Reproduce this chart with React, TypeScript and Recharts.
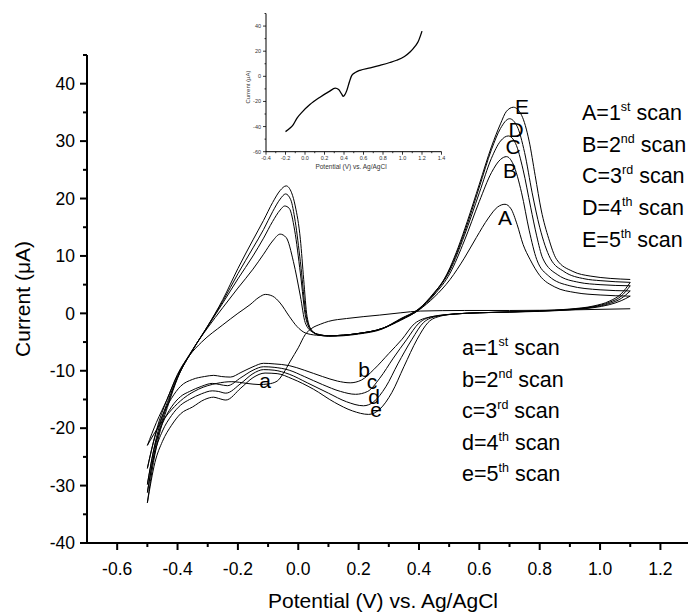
import React from 'react';
import { LineChart, Line, XAxis, YAxis } from 'recharts';

type Pt = [number, number];

// anodic sweeps, -0.5 V -> 1.1 V (scans 1..5)
const fwdScan1: Pt[] = [
  [-0.5, -23], [-0.47, -19], [-0.435, -15], [-0.4, -10.6], [-0.36, -7.3], [-0.32, -5], [-0.25, -2],
  [-0.2, 0], [-0.16, 1.5], [-0.13, 2.8], [-0.109, 3.3], [-0.085, 3], [-0.06, 1.8], [-0.03, -0.5],
  [-0.004, -2.3], [0.023, -3.4], [0.06, -3.8], [0.1, -3.9], [0.2, -3.5], [0.28, -2.6], [0.34, -1.2],
  [0.4, 0.6], [0.45, 2.8], [0.503, 5.9], [0.55, 9.6], [0.59, 13.2], [0.63, 16.6], [0.66, 18.5],
  [0.685, 19], [0.705, 18.2], [0.725, 15.5], [0.745, 12], [0.768, 9.4], [0.8, 6.6], [0.85, 4.6],
  [0.92, 3.6], [1.0, 3.2], [1.1, 3.0],
];
const fwdScan2: Pt[] = [
  [-0.5, -27], [-0.48, -22.4], [-0.46, -18.6], [-0.43, -14.4], [-0.4, -10.8], [-0.35, -6.3], [-0.3, -2.5],
  [-0.25, 1], [-0.2, 4.4], [-0.15, 7.7], [-0.115, 10.3], [-0.085, 12.6], [-0.06, 13.8],
  [-0.04, 13.2], [-0.016, 9], [0.007, 3], [0.023, -1.6], [0.045, -3.2], [0.07, -3.7], [0.1, -3.9],
  [0.2, -3.5], [0.28, -2.6], [0.34, -1.1], [0.4, 0.6], [0.45, 3.2], [0.503, 7], [0.55, 12.6], [0.6, 19.5],
  [0.64, 24.5], [0.67, 26.8], [0.69, 27.3], [0.712, 26], [0.74, 21], [0.765, 14.5], [0.79, 9.4],
  [0.83, 6.5], [0.9, 4.8], [1.0, 4.1], [1.1, 3.9],
];
const fwdScan3: Pt[] = [
  [-0.5, -29.8], [-0.48, -24], [-0.46, -19.6], [-0.43, -15], [-0.4, -11.1], [-0.35, -6.4], [-0.3, -2.3],
  [-0.25, 1.8], [-0.2, 6], [-0.15, 10], [-0.115, 13.1], [-0.085, 16], [-0.06, 18],
  [-0.045, 18.7], [-0.03, 18.3], [-0.012, 14.5], [0.007, 7], [0.025, -0.8], [0.045, -3.1], [0.07, -3.7],
  [0.1, -3.9], [0.2, -3.5], [0.28, -2.6], [0.34, -1.0], [0.4, 0.7], [0.45, 3.4], [0.503, 7.5], [0.55, 13.5],
  [0.6, 21], [0.64, 27], [0.67, 30], [0.696, 30.9], [0.72, 29.6], [0.745, 25], [0.77, 18.5], [0.79, 13.5],
  [0.81, 9.6], [0.86, 6.7], [0.93, 5.4], [1.0, 5.0], [1.1, 4.8],
];
const fwdScan4: Pt[] = [
  [-0.5, -31.2], [-0.48, -25], [-0.46, -20.3], [-0.43, -15.4], [-0.4, -11.2], [-0.35, -6.4], [-0.3, -2.2],
  [-0.25, 2.1], [-0.2, 6.9], [-0.15, 11.4], [-0.115, 14.6], [-0.085, 17.7], [-0.06, 19.9],
  [-0.042, 20.8], [-0.025, 19.8], [-0.01, 16], [0.007, 9], [0.027, -0.6], [0.045, -3], [0.07, -3.8],
  [0.1, -3.9], [0.2, -3.5], [0.28, -2.6], [0.34, -0.9], [0.4, 0.8], [0.45, 3.5], [0.503, 7.8], [0.55, 14],
  [0.6, 22], [0.64, 28.5], [0.67, 32.2], [0.7, 33.9], [0.725, 32.6], [0.75, 28], [0.775, 21], [0.8, 15],
  [0.835, 9.6], [0.88, 7.3], [0.95, 6.0], [1.0, 5.7], [1.1, 5.4],
];
const fwdScan5: Pt[] = [
  [-0.5, -33], [-0.48, -26], [-0.46, -21], [-0.43, -15.8], [-0.4, -11.3], [-0.35, -6.4], [-0.3, -2.2],
  [-0.25, 2.4], [-0.2, 7.8], [-0.15, 12.8], [-0.115, 16.2], [-0.085, 19.3], [-0.06, 21.4],
  [-0.04, 22.2], [-0.022, 21], [-0.01, 18.7], [0.007, 12.9], [0.018, 5.9], [0.029, -0.5], [0.045, -3],
  [0.07, -3.8], [0.1, -4], [0.2, -3.6], [0.28, -2.7], [0.34, -1], [0.4, 0.8], [0.45, 3.6], [0.48, 5.6],
  [0.503, 8], [0.53, 11.5], [0.56, 16], [0.6, 22.5], [0.64, 29], [0.67, 33], [0.69, 35.2], [0.713, 35.9],
  [0.74, 34.5], [0.765, 30], [0.785, 24], [0.805, 18], [0.83, 13], [0.856, 9.4], [0.91, 7.3], [0.967, 6.5],
  [1.1, 5.9],
];

// cathodic sweeps, 1.1 V -> -0.5 V (scans a..e)
const revScan1: Pt[] = [
  [1.1, 0.8], [0.9, 0.6], [0.7, 0.5], [0.55, 0.5], [0.404, 0.4], [0.34, 0.1], [0.27, -0.3], [0.16, -0.9],
  [0.1, -1.4], [0.073, -1.9], [0.045, -2.6], [0.023, -3.7], [0.0, -6], [-0.026, -8.3], [-0.05, -10.5],
  [-0.07, -11.8], [-0.1, -12.3], [-0.13, -12.4], [-0.17, -12.2], [-0.22, -11.9], [-0.27, -12.2],
  [-0.33, -13.2], [-0.38, -14.8], [-0.42, -16.8], [-0.46, -19.5], [-0.5, -23],
];
const revScan2: Pt[] = [
  [1.1, 3.0], [1.07, 2.2], [1.03, 1.5], [0.98, 1.0], [0.9, 0.6], [0.8, 0.35], [0.7, 0.2], [0.6, 0.1],
  [0.52, -0.1], [0.47, -0.4], [0.44, -0.6], [0.385, -1.8], [0.344, -4.5], [0.3, -7], [0.25, -9.8],
  [0.21, -11.6], [0.172, -12.1], [0.13, -11.8], [0.08, -11], [0.02, -9.9], [-0.03, -9.1], [-0.08, -8.8],
  [-0.115, -8.7], [-0.15, -9.3], [-0.19, -10.3], [-0.225, -11.1], [-0.255, -11], [-0.28, -10.8],
  [-0.31, -11], [-0.35, -11.5], [-0.39, -12.7], [-0.42, -14.8], [-0.45, -17.8], [-0.475, -21.5], [-0.5, -27],
];
const revScan3: Pt[] = [
  [1.1, 3.9], [1.07, 2.6], [1.03, 1.7], [0.98, 1.1], [0.9, 0.65], [0.8, 0.4], [0.7, 0.25], [0.6, 0.1],
  [0.52, -0.1], [0.45, -0.5], [0.4, -1.7], [0.36, -4.5], [0.315, -7.8], [0.27, -11.3], [0.23, -13.6],
  [0.19, -14.1], [0.14, -13.6], [0.08, -12.4], [0.02, -11], [-0.03, -9.9], [-0.08, -9.4], [-0.115, -9.3],
  [-0.15, -9.9], [-0.19, -11.2], [-0.235, -12.6], [-0.26, -12.4], [-0.285, -12.2], [-0.32, -12.7],
  [-0.36, -13.6], [-0.39, -14.5], [-0.42, -16.3], [-0.45, -19.2], [-0.475, -23], [-0.5, -29.8],
];
const revScan4: Pt[] = [
  [1.1, 4.8], [1.07, 3.0], [1.03, 1.9], [0.98, 1.2], [0.9, 0.7], [0.8, 0.4], [0.7, 0.25], [0.6, 0.1],
  [0.52, -0.1], [0.46, -0.5], [0.415, -1.6], [0.377, -4.5], [0.33, -8.8], [0.29, -12.8], [0.25, -15.4],
  [0.216, -16.1], [0.16, -15.4], [0.1, -13.9], [0.03, -12.1], [-0.03, -10.6], [-0.08, -9.9], [-0.115, -9.8],
  [-0.15, -10.5], [-0.19, -12.2], [-0.24, -13.9], [-0.265, -13.6], [-0.285, -13.5], [-0.32, -14],
  [-0.36, -15], [-0.39, -16], [-0.42, -17.8], [-0.45, -20.5], [-0.475, -24.2], [-0.5, -31.2],
];
const revScan5: Pt[] = [
  [1.1, 5.4], [1.07, 3.4], [1.03, 2.1], [0.98, 1.3], [0.9, 0.75], [0.8, 0.45], [0.7, 0.25], [0.6, 0.1],
  [0.52, -0.1], [0.47, -0.5], [0.43, -1.6], [0.394, -4.5], [0.35, -9.3], [0.31, -13.8], [0.27, -16.7],
  [0.233, -17.6], [0.18, -17], [0.12, -15.5], [0.05, -13.2], [-0.02, -11.4], [-0.07, -10.5], [-0.11, -10.4],
  [-0.15, -11.2], [-0.19, -13], [-0.24, -15.1], [-0.265, -14.8], [-0.28, -14.6], [-0.31, -15], [-0.35, -16.3],
  [-0.39, -17.5], [-0.42, -19.5], [-0.45, -22.3], [-0.475, -26], [-0.5, -33],
];

// inset: single sweep
const insetCurve: Pt[] = [
  [-0.2, -44], [-0.15, -41], [-0.12, -38.4], [-0.08, -33], [-0.03, -28.5], [0.05, -22.5], [0.15, -16.8],
  [0.25, -12], [0.31, -9.4], [0.345, -10.5], [0.375, -14], [0.393, -16], [0.41, -14.5], [0.43, -11],
  [0.455, -4.5], [0.48, 0.8], [0.52, 3.2], [0.564, 4.8], [0.67, 6.8], [0.77, 8.8], [0.87, 11], [0.94, 12.8],
  [1.02, 15.8], [1.08, 19.5], [1.13, 24], [1.16, 27.5], [1.2, 36],
];

const xTicks = [-0.6, -0.5, -0.4, -0.3, -0.2, -0.1, 0, 0.1, 0.2, 0.3, 0.4, 0.5, 0.6, 0.7, 0.8, 0.9, 1.0, 1.1, 1.2];
const xLabels = [-0.6, -0.4, -0.2, 0, 0.2, 0.4, 0.6, 0.8, 1.0, 1.2];
const yTicks = [-40, -35, -30, -25, -20, -15, -10, -5, 0, 5, 10, 15, 20, 25, 30, 35, 40, 45];
const yLabels = [-40, -30, -20, -10, 0, 10, 20, 30, 40];
const insetXTicks = [-0.4, -0.3, -0.2, -0.1, 0, 0.1, 0.2, 0.3, 0.4, 0.5, 0.6, 0.7, 0.8, 0.9, 1.0, 1.1, 1.2, 1.3, 1.4];
const insetXLabels = [-0.4, -0.2, 0, 0.2, 0.4, 0.6, 0.8, 1.0, 1.2, 1.4];
const insetYTicks = [-60, -50, -40, -30, -20, -10, 0, 10, 20, 30, 40, 50];
const insetYLabels = [-60, -40, -20, 0, 20, 40];

const peakLetters = ['A', 'B', 'C', 'D', 'E'];
const dipLetters = ['a', 'b', 'c', 'd', 'e'];
const scanNumbers = ['1', '2', '3', '4', '5'];
const scanSuffixes = ['st', 'nd', 'rd', 'th', 'th'];

const toRows = (pts: Pt[]) =>
  pts.slice().sort((p, q) => p[0] - q[0]).map(([v, i]) => ({ v, i }));

const fwdScans = [fwdScan1, fwdScan2, fwdScan3, fwdScan4, fwdScan5];
const revScans = [revScan1, revScan2, revScan3, revScan4, revScan5];

const FONT = '"Liberation Sans", Arial, sans-serif';

const isIn = (list: number[], v: number) => list.some((l) => Math.abs(l - v) < 1e-6);

const makeXTick = (labels: number[], big: number, small: number, gap: number, fs: number, sw: number, color: string) =>
  (props: any) => {
    const { x, y, payload } = props;
    const major = isIn(labels, payload.value);
    return (
      <g>
        <line x1={x} y1={y} x2={x} y2={y + (major ? big : small)} stroke="#000" strokeWidth={sw} />
        {major && (
          <text x={x} y={y + gap} textAnchor="middle" fontSize={fs} fontFamily={FONT} fill={color}>
            {Number(payload.value).toFixed(1)}
          </text>
        )}
      </g>
    );
  };

const makeYTick = (labels: number[], big: number, small: number, gap: number, fs: number, sw: number, color: string) =>
  (props: any) => {
    const { x, y, payload } = props;
    const major = isIn(labels, payload.value);
    return (
      <g>
        <line x1={x} y1={y} x2={x - (major ? big : small)} y2={y} stroke="#000" strokeWidth={sw} />
        {major && (
          <text x={x - gap} y={y} dy="0.36em" textAnchor="end" fontSize={fs} fontFamily={FONT} fill={color}>
            {payload.value}
          </text>
        )}
      </g>
    );
  };

const MainXTick = makeXTick(xLabels, 7, 4, 32, 17.5, 2, '#000');
const MainYTick = makeYTick(yLabels, 7, 4, 12, 17.5, 2, '#000');
const InsetXTick = makeXTick(insetXLabels, 3, 1.5, 8, 5.5, 0.8, '#333');
const InsetYTick = makeYTick(insetYLabels, 3, 1.5, 5, 5.5, 0.8, '#333');

// label anchor points for the peak / dip letters (pixel positions)
const peakLabelPos = [[505, 224.5], [510, 177.5], [513, 153.5], [516, 136.5], [522, 113.5]];
const dipLabelPos = [[265, 387.5], [364, 376.5], [372, 388.5], [374, 403.5], [376, 416.5]];

export default function App() {
  return (
    <div style={{ position: 'absolute', left: 0, top: 0, width: 688, height: 614, overflow: 'hidden', background: '#fff' }}>
      <div style={{ position: 'absolute', left: 0, top: 0 }}>
        <LineChart width={700} height={614} margin={{ top: 55, right: 9.4, bottom: 31, left: 27 }}>
          <XAxis
            type="number"
            dataKey="v"
            domain={[-0.7, 1.3]}
            allowDataOverflow
            ticks={xTicks}
            interval={0}
            tickSize={0}
            tickMargin={0}
            tickLine={false}
            tick={MainXTick}
            axisLine={{ stroke: '#000', strokeWidth: 2 }}
            height={40}
          />
          <YAxis
            type="number"
            domain={[-40, 45]}
            allowDataOverflow
            ticks={yTicks}
            interval={0}
            tickSize={0}
            tickMargin={0}
            tickLine={false}
            tick={MainYTick}
            axisLine={{ stroke: '#000', strokeWidth: 2 }}
            width={60}
          />
          {fwdScans.map((s, k) => (
            <Line key={`f${k}`} data={toRows(s)} dataKey="i" type="monotone" stroke="#000" strokeWidth={1}
              dot={false} activeDot={false} isAnimationActive={false} />
          ))}
          {revScans.map((s, k) => (
            <Line key={`r${k}`} data={toRows(s)} dataKey="i" type="monotone" stroke="#000" strokeWidth={1}
              dot={false} activeDot={false} isAnimationActive={false} />
          ))}
        </LineChart>
      </div>

      <div style={{ position: 'absolute', left: 226, top: 0 }}>
        <LineChart width={230} height={180} margin={{ top: 13.5, right: 14.5, bottom: 8.3, left: 0 }}>
          <XAxis
            type="number"
            dataKey="v"
            domain={[-0.4, 1.4]}
            allowDataOverflow
            ticks={insetXTicks}
            interval={0}
            tickSize={0}
            tickMargin={0}
            tickLine={false}
            tick={InsetXTick}
            axisLine={{ stroke: '#000', strokeWidth: 1 }}
            height={20}
          />
          <YAxis
            type="number"
            domain={[-60, 50]}
            allowDataOverflow
            ticks={insetYTicks}
            interval={0}
            tickSize={0}
            tickMargin={0}
            tickLine={false}
            tick={InsetYTick}
            axisLine={{ stroke: '#000', strokeWidth: 1 }}
            width={40}
          />
          <Line data={toRows(insetCurve)} dataKey="i" type="monotone" stroke="#000" strokeWidth={1.3}
            dot={false} activeDot={false} isAnimationActive={false} />
        </LineChart>
      </div>

      <svg width={688} height={614} style={{ position: 'absolute', left: 0, top: 0, pointerEvents: 'none' }}
        fontFamily={FONT}>
        <text x={22} y={299} transform="rotate(-90 22 299)" textAnchor="middle" dominantBaseline="central" fontSize={21}>
          Current (μA)
        </text>
        <text x={383} y={608} textAnchor="middle" fontSize={21}>Potential (V) vs. Ag/AgCl</text>

        <text x={248} y={87} transform="rotate(-90 248 87)" textAnchor="middle" dominantBaseline="central" fontSize={6} fill="#333">
          Current (μA)
        </text>
        <text x={351} y={169} textAnchor="middle" fontSize={6.5} fill="#333">Potential (V) vs. Ag/AgCl</text>

        {peakLetters.map((l, k) => (
          <text key={l} x={peakLabelPos[k][0]} y={peakLabelPos[k][1]} textAnchor="middle" fontSize={21}>{l}</text>
        ))}
        {dipLetters.map((l, k) => (
          <text key={l} x={dipLabelPos[k][0]} y={dipLabelPos[k][1]} textAnchor="middle" fontSize={21}>{l}</text>
        ))}

        {peakLetters.map((l, k) => (
          <text key={`U${l}`} x={582} y={120 + k * 31.7} fontSize={21.5}>
            {`${l}=${scanNumbers[k]}`}
            <tspan fontSize={12.5} dy={-9}>{scanSuffixes[k]}</tspan>
            <tspan dy={9}>{' scan'}</tspan>
          </text>
        ))}
        {dipLetters.map((l, k) => (
          <text key={`L${l}`} x={462} y={355 + k * 31.6} fontSize={21.5}>
            {`${l}=${scanNumbers[k]}`}
            <tspan fontSize={12.5} dy={-9}>{scanSuffixes[k]}</tspan>
            <tspan dy={9}>{' scan'}</tspan>
          </text>
        ))}
      </svg>
    </div>
  );
}
